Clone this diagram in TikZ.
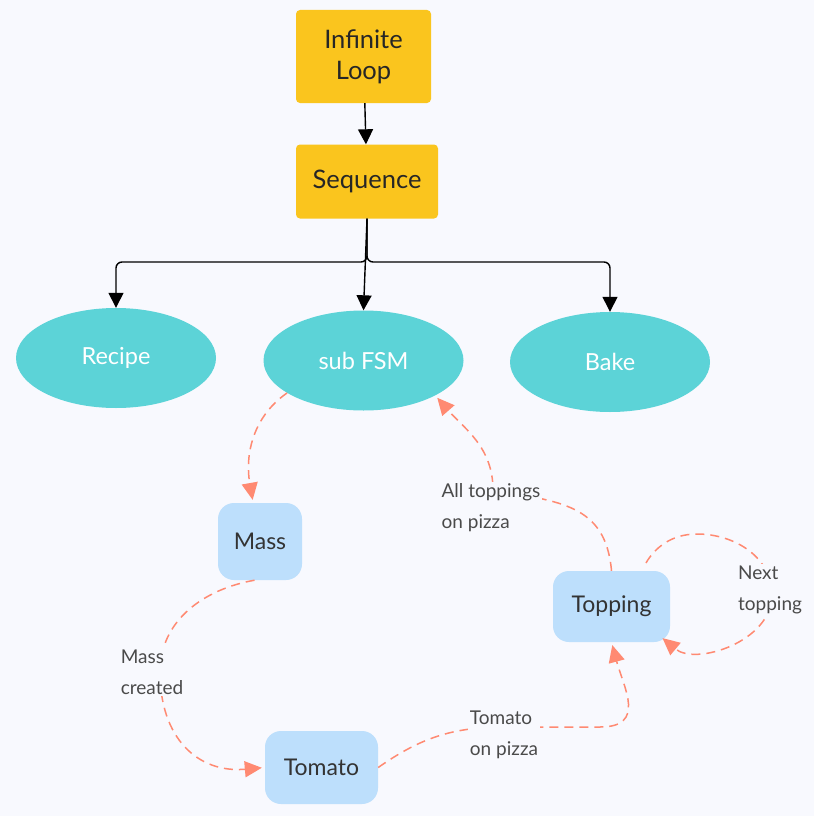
\documentclass[tikz,border=0pt]{standalone}
\usepackage{fontspec}
\setmainfont{Lato}
\usepackage{tikz}
\usetikzlibrary{shapes.geometric,arrows.meta,calc}
\definecolor{bg}{HTML}{F8F9FE}
\definecolor{gold}{HTML}{FAC51E}
\definecolor{aqua}{HTML}{5CD3D7}
\definecolor{sky}{HTML}{BDDFFC}
\definecolor{salmon}{HTML}{FF8A72}
\definecolor{ink}{HTML}{4A4A4A}
\tikzstyle{line} = [draw, line width=1.4pt, -{Triangle[length=15pt,width=15pt]}]
\tikzstyle{dline} = [draw=salmon, line width=1.5pt, dash pattern=on 9pt off 6pt, shorten >=3pt, -{Triangle[length=17pt,width=16pt,fill=salmon]}]
\tikzstyle{block} = [fill=gold, rectangle, rounded corners=4pt, text centered, align=center, text=black!85, font=\fontsize{25.5}{31}\selectfont]
\tikzstyle{oval} = [fill=aqua, ellipse, minimum width=200pt, minimum height=100pt, inner sep=0pt, text=white, font=\fontsize{23.5}{26}\selectfont]
\tikzstyle{state} = [fill=sky, rectangle, rounded corners=16pt, text centered, text=black!80, font=\fontsize{23}{26}\selectfont]
\tikzstyle{tag} = [fill=bg, align=left, inner sep=2pt, text=ink, font=\fontsize{19}{31}\selectfont]

\begin{document}
\begin{tikzpicture}[x=1pt, y=1pt, node distance=125pt, auto]
        \fill[bg] (0,0) rectangle (814,-816);
        \node[block, minimum width=135pt, minimum height=93pt] (loop) at (363.5,-56.5) {Infinite\\Loop};
        \node[block, minimum width=142pt, minimum height=74pt, below of=loop, xshift=3.5pt] (seq) {Sequence};
        \node[oval] (subfsm) at (363.5,-360.5) {sub FSM};
        \node[oval, left of=subfsm, node distance=247.5pt, yshift=2.5pt] (recipe) {Recipe};
        \node[oval, right of=subfsm, node distance=246.5pt, yshift=-1.5pt] (bake) {Bake};
        \node[state, minimum width=84pt, minimum height=77pt] (mass) at (260,-541.5) {Mass};
        \node[state, minimum width=117pt, minimum height=71pt] (topping) at (611.5,-606.5) {Topping};
        \node[state, minimum width=113pt, minimum height=73pt] (tomato) at (321.5,-767.5) {Tomato};
        \coordinate (fork) at (367,-262);
        \coordinate (bend1) at (160,-672);
        \coordinate (bend2) at (505,-727);
        \coordinate (bend3) at (600,-727);
        \coordinate (bend4) at (493,-490);
        \coordinate (bend5) at (697,-534);
        \coordinate (bend6) at (772,-595);
        \path[line] (loop) -- (seq);
        \path[line, rounded corners=6pt] (seq.south) -- (fork) -| (recipe);
        \path[line] (seq.south) -- (subfsm.north);
        \path[line, rounded corners=6pt] (seq.south) -- (fork) -| (bake);
        \path[dline] (subfsm.203) to[out=215, in=100] (mass.100);
        \path[dline] (mass.262) to[out=190, in=90] (bend1) to[out=-90, in=185, looseness=1.2] (tomato.west);
        \path[dline] (tomato.east) to[out=35, in=180] (bend2) -- (bend3) to[out=0, in=-75, looseness=1.4] (topping.south);
        \path[dline] (topping.north) to[out=95, in=-10, looseness=1.2] (bend4) to[out=90, in=-49] (subfsm.-26);
        \path[dline, shorten <=9pt] (topping.50) to[out=60, in=180] (bend5) to[out=0, in=90] (bend6) to[out=-90, in=-40] ([xshift=-10pt, yshift=6pt]topping.south east);
        \node[tag] (tmass) at (152,-672) {Mass\\created};
        \node[tag] (tpizza) at (504,-735) {Tomato\\on pizza};
        \node[tag] (tall) at (491,-508) {All toppings\\on pizza};
        \node[tag] (tnext) at (770,-590) {Next\\topping};
    \end{tikzpicture}
\end{document}
